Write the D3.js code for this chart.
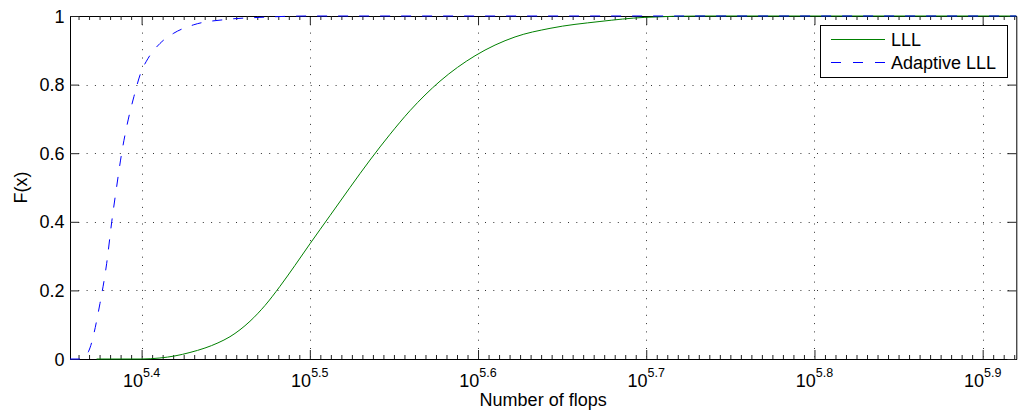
<!DOCTYPE html>
<html><head><meta charset="utf-8">
<script src="https://cdn.jsdelivr.net/npm/d3@7"></script>
<style>body{margin:0;background:#fff}svg{display:block}text{font-family:"Liberation Sans",Arial,Helvetica,sans-serif;fill:#000}</style>
</head><body><svg id="c" width="1023" height="418"></svg>
<script>
// ---- data ----
const seriesNames = ["LLL", "Adaptive LLL"];
const lllFlops = [236180, 251210, 257570, 262920, 268370, 273940, 278860, 283480, 291350, 297400, 303570, 309870, 316300, 325080, 334100, 343380, 352910, 362710, 377920, 396460, 418800, 439330, 470430, 500290, 539470, 831760];
const lllF     = [0, 0, 0.003, 0.009, 0.019, 0.032, 0.047, 0.065, 0.110, 0.156, 0.212, 0.273, 0.336, 0.418, 0.500, 0.580, 0.655, 0.724, 0.810, 0.884, 0.939, 0.964, 0.984, 0.996, 1, 1];
const adaptiveFlops = [227730, 230850, 232200, 233530, 237270, 239460, 241120, 242740, 244420, 246600, 248550, 250850, 253460, 257580, 262310, 269600, 282190, 295350, 316230, 831760];
const adaptiveF     = [0, 0, 0.006, 0.021, 0.162, 0.279, 0.400, 0.502, 0.600, 0.697, 0.765, 0.833, 0.877, 0.920, 0.949, 0.974, 0.990, 0.996, 1, 1];
const xDomain = [227730, 831760];
const xTickExponents = [5.4, 5.5, 5.6, 5.7, 5.8, 5.9];
const xTickLabelBase = "10";
const xTickLabelExp = ["5.4", "5.5", "5.6", "5.7", "5.8", "5.9"];
const yTicks = [0, 0.2, 0.4, 0.6, 0.8, 1];
const yTickLabels = ["0", "0.2", "0.4", "0.6", "0.8", "1"];
const xLabel = "Number of flops";
const yLabel = "F(x)";

// ---- layout ----
const L = 70, R = 1016.3, T = 16, B = 359;
const svg = d3.select("#c");
const x = d3.scaleLog().domain(xDomain).range([L, R]);
const y = d3.scaleLinear().domain([0, 1]).range([B, T]);

const xTickVals = xTickExponents.map(e => Math.pow(10, e));
// minor ticks: uniform in log space (1/16 of a major step)
const lo = Math.log10(xDomain[0]), hi = Math.log10(xDomain[1]);
const minorVals = [];
for (let k = Math.ceil((lo - 5.4) * 160); 5.4 + k / 160 <= hi; k++) {
  if (k % 16 !== 0) minorVals.push(Math.pow(10, 5.4 + k / 160));
}

const g = svg.append("g");
// grid
g.selectAll("line.gx").data(xTickVals).join("line")
  .attr("x1", d => Math.round(x(d)) + 0.5).attr("x2", d => Math.round(x(d)) + 0.5)
  .attr("y1", T).attr("y2", B)
  .attr("stroke", "#333").attr("stroke-width", 1).attr("stroke-dasharray", "1,7.3");
g.selectAll("line.gy").data(yTicks.filter(v => v > 0 && v < 1)).join("line")
  .attr("x1", L).attr("x2", R)
  .attr("y1", d => Math.round(y(d)) + 0.5).attr("y2", d => Math.round(y(d)) + 0.5)
  .attr("stroke", "#333").attr("stroke-width", 1).attr("stroke-dasharray", "1,7.3");

// axes with inward ticks
const axB = d3.axisBottom(x).tickValues(xTickVals).tickSize(-9).tickFormat("");
const axT = d3.axisTop(x).tickValues(xTickVals).tickSize(-9).tickFormat("");
const axBm = d3.axisBottom(x).tickValues(minorVals).tickSize(-4).tickFormat("");
const axTm = d3.axisTop(x).tickValues(minorVals).tickSize(-4).tickFormat("");
const axL = d3.axisLeft(y).tickValues(yTicks).tickSize(-9).tickFormat("");
const axR = d3.axisRight(y).tickValues(yTicks).tickSize(-9).tickFormat("");
function styleAx(sel) {
  sel.selectAll(".domain").attr("stroke", "#000").attr("stroke-width", 1);
  sel.selectAll(".tick line").attr("stroke", "#222").attr("stroke-width", 1);
}
[[axB, `translate(0,${B})`], [axBm, `translate(0,${B})`], [axT, `translate(0,${T})`], [axTm, `translate(0,${T})`],
 [axL, `translate(${L},0)`], [axR, `translate(${R},0)`]].forEach(([a, tr]) => {
  const s = g.append("g").attr("transform", tr).call(a.tickSizeOuter(0));
  styleAx(s);
});

// x tick labels 10^e
xTickVals.forEach((v, i) => {
  const t = g.append("text").attr("x", x(v)).attr("y", 387).attr("text-anchor", "middle").style("font-size", "18px");
  t.append("tspan").text(xTickLabelBase);
  t.append("tspan").attr("dy", -10).style("font-size", "12.5px").text(xTickLabelExp[i]);
});
// y tick labels
g.selectAll("text.yl").data(yTicks).join("text")
  .attr("x", 64.5).attr("y", d => y(d) + 6.5).attr("text-anchor", "end").style("font-size", "18px")
  .text((d, i) => yTickLabels[i]);

// axis labels
g.append("text").attr("x", (L + R) / 2).attr("y", 406).attr("text-anchor", "middle").style("font-size", "18px").text(xLabel);
g.append("text").attr("transform", `translate(26.5,${(T + B) / 2}) rotate(-90)`).attr("text-anchor", "middle").style("font-size", "18px").text(yLabel);

// curves
const line = d3.line().x(d => x(d[0])).y(d => y(d[1])).curve(d3.curveMonotoneX);
g.append("path").datum(lllFlops.map((v, i) => [v, lllF[i]]))
  .attr("d", line).attr("fill", "none").attr("stroke", "#008000").attr("stroke-width", 1);
g.append("path").datum(adaptiveFlops.map((v, i) => [v, adaptiveF[i]]))
  .attr("d", line).attr("fill", "none").attr("stroke", "#0000ff").attr("stroke-width", 1)
  .attr("stroke-dasharray", "10,11");

// legend
const lg = g.append("g");
lg.append("rect").attr("x", 820.5).attr("y", 25.5).attr("width", 187).attr("height", 52)
  .attr("fill", "#fff").attr("stroke", "#000").attr("stroke-width", 1);
const legendColors = ["#008000", "#0000ff"];
const legendDash = [null, "10,12"];
seriesNames.forEach((n, i) => {
  const yy = 39.5 + i * 23;
  lg.append("line").attr("x1", 831).attr("x2", 885).attr("y1", yy).attr("y2", yy)
    .attr("stroke", legendColors[i]).attr("stroke-width", 1).attr("stroke-dasharray", legendDash[i]);
  lg.append("text").attr("x", 891).attr("y", yy + 6.5).style("font-size", "18px").text(n);
});
</script></body></html>
